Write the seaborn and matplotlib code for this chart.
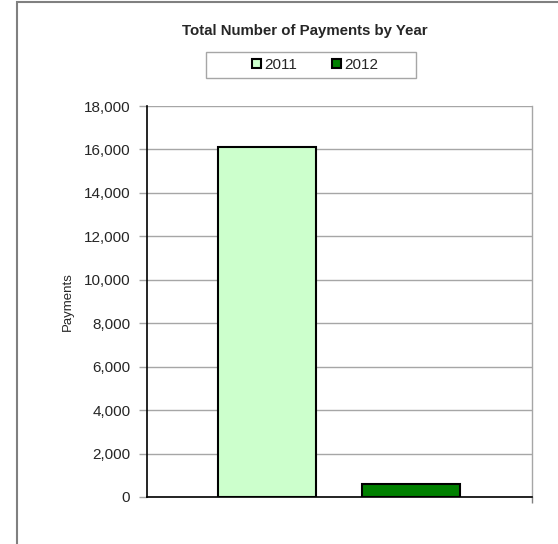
import matplotlib
matplotlib.use("Agg")
import matplotlib.pyplot as plt
import seaborn as sns
import pandas as pd
from matplotlib.patches import Patch, Rectangle
from matplotlib.ticker import FuncFormatter

# --- data ---
years = ["2011", "2012"]
payments = [16100, 600]
bar_colors = ["#CCFFCC", "#008000"]

df = pd.DataFrame({"Year": years, "Payments": payments})

sns.set_style("white")
plt.rcParams["font.family"] = ["Liberation Sans", "DejaVu Sans"]

fig = plt.figure(figsize=(5.58, 5.44), dpi=100)
ax = fig.add_axes([147 / 558, 1 - 497 / 544, 385 / 558, 391 / 544])

sns.barplot(data=df, x="Year", y="Payments", hue="Year", palette=bar_colors,
            saturation=1, width=0.674, edgecolor="black", linewidth=1.5,
            legend=False, ax=ax)

ax.set_ylim(0, 18000)
ax.set_yticks(range(0, 18001, 2000))
ax.yaxis.set_major_formatter(FuncFormatter(lambda v, p: f"{int(v):,}"))
ax.set_xlim(-0.833, 1.84)
ax.set_xticks([1.84])
ax.set_xticklabels([""])
ax.tick_params(axis="x", bottom=True, length=4, width=1, color="#808080")
ax.set_xlabel("")
ax.set_ylabel("Payments", fontsize=9.5, labelpad=7)

ax.yaxis.grid(True, color="#a6a6a6", linewidth=1)
ax.set_axisbelow(True)
ax.tick_params(axis="y", which="major", left=True, length=6, width=1,
               color="#a6a6a6", labelsize=11, pad=6)

for side in ["left", "bottom"]:
    ax.spines[side].set_color("black")
    ax.spines[side].set_linewidth(1.2)
ax.spines["right"].set_color("#a6a6a6")
ax.spines["right"].set_linewidth(1)
ax.spines["top"].set_visible(False)

fig.text(0.547, 1 - 31 / 544, "Total Number of Payments by Year",
         ha="center", va="center", fontsize=10.8, fontweight="bold")

handles = [Patch(facecolor=c, edgecolor="black", linewidth=1.5, label=y)
           for y, c in zip(years, bar_colors)]
leg = fig.legend(handles=handles, ncol=2, loc="center",
                 bbox_to_anchor=(315 / 558, 1 - 65 / 544),
                 frameon=False, fontsize=11,
                 handlelength=0.6, handleheight=0.6, handletextpad=0.2,
                 columnspacing=2.3, borderpad=0.3)

# legend box drawn separately so it can be wider than its entries
fig.patches.append(Rectangle((206 / 558, 1 - 78 / 544), 210 / 558, 26 / 544,
                             transform=fig.transFigure, fill=False,
                             edgecolor="#a6a6a6", linewidth=1))

# outer chart-area frame, partly cut off at the right and bottom
fig.patches.append(Rectangle((17 / 558, -0.1), 1.0, 1.1 - 2 / 544,
                             transform=fig.transFigure, fill=False,
                             edgecolor="#808080", linewidth=1.5))

fig.savefig("out.png", dpi=100)
